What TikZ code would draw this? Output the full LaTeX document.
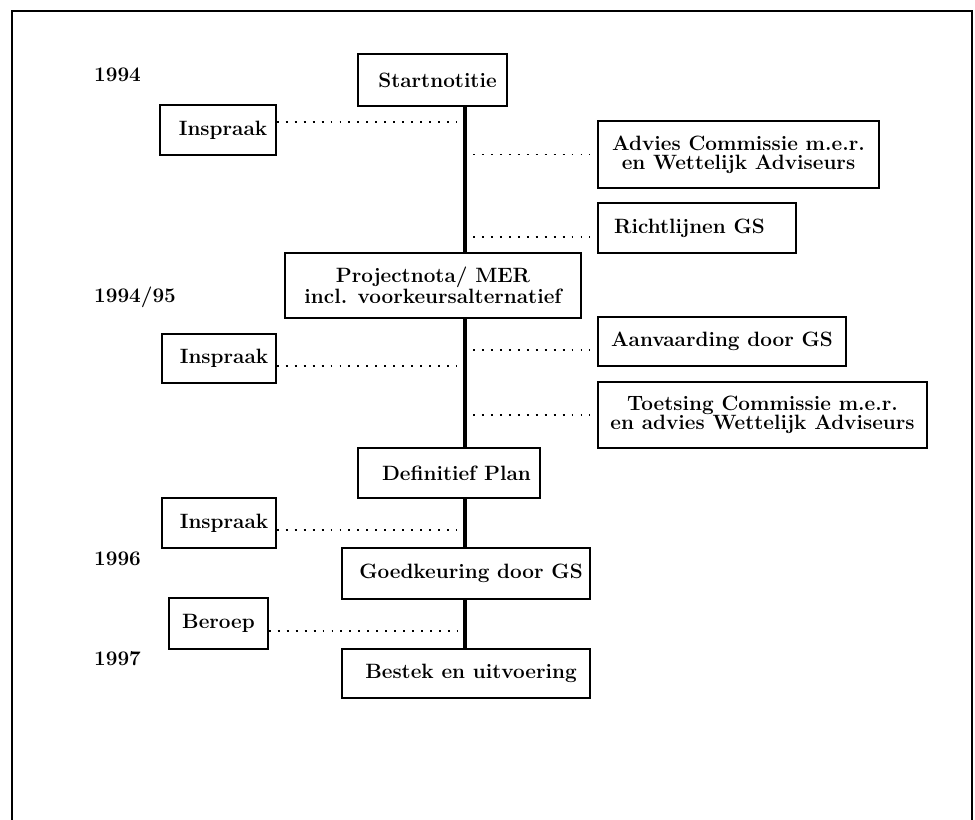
\documentclass[tikz,border=0pt]{standalone}
\usepackage{tikz}
\usetikzlibrary{positioning}

\begin{document}
\begin{tikzpicture}[x=0.02cm, y=-0.02cm, font=\fontsize{11.8}{10.8}\selectfont\bfseries,
        box/.style={draw, line width=0.9pt, align=center, inner sep=0pt},
        spine/.style={line width=2pt},
        dots/.style={line width=1.1pt, dash pattern=on 1.1pt off 4pt}]
        \useasboundingbox (0,0) rectangle (975,820);
        \draw[line width=1.3pt] (12,820) -- (12,11) -- (972,11) -- (972,820);
        \coordinate (sp) at (465,0);
        \foreach \yy/\yr in {75/{1994}, 297/{1994/95}, 559/{1996}, 659/{1997}}{
          \node[anchor=west] (yr\yy) at (88,\yy) {\yr};
        }
        \node[box, minimum width=2.98cm, minimum height=1.04cm] (start) at (432.5,80) {\hspace{0.2cm}Startnotitie};
        \node[box, minimum width=5.92cm, minimum height=1.30cm] (proj) at (433,285.5) {Projectnota/ MER\\incl. voorkeursalternatief};
        \node[box, minimum width=3.64cm, minimum height=1.00cm] (defp) at (449,473) {\hspace{0.3cm}Definitief Plan};
        \node[box, minimum width=4.96cm, minimum height=1.02cm] (goed) at (466,573.5) {\hspace{0.2cm}Goedkeuring door GS};
        \node[box, minimum width=4.96cm, minimum height=0.98cm] (best) at (466,673.5) {\hspace{0.2cm}Bestek en uitvoering};
        \node[box, minimum width=2.32cm, minimum height=1.00cm] (ins1) at (218,130) {\hspace{0.2cm}Inspraak};
        \node[box, minimum width=2.28cm, minimum height=0.98cm] (ins2) at (219,358.5) {\hspace{0.2cm}Inspraak};
        \node[box, minimum width=2.28cm, minimum height=1.00cm] (ins3) at (219,523) {\hspace{0.2cm}Inspraak};
        \node[box, minimum width=1.98cm, minimum height=1.02cm] (ber) at (218.5,623.5) {Beroep};
        \node[box, minimum width=5.62cm, minimum height=1.34cm] (adv) at (738.5,154.5) {Advies Commissie m.e.r.\\en Wettelijk Adviseurs};
        \node[box, minimum width=3.96cm, minimum height=1.00cm] (richt) at (697,228) {Richtlijnen GS\hspace{0.3cm}};
        \node[box, minimum width=4.96cm, minimum height=0.98cm] (aanv) at (722,341.5) {Aanvaarding door GS};
        \node[box, minimum width=6.58cm, minimum height=1.32cm] (toets) at (762.5,415) {Toetsing Commissie m.e.r.\\en advies Wettelijk Adviseurs};
        \foreach \a/\b in {start/proj, proj/defp, defp/goed, goed/best}{
          \draw[spine] (\a.south -| sp) -- (\b.north -| sp);
        }
        \foreach \n/\dy in {ins1/0.16, ins2/-0.15, ins3/-0.14, ber/-0.15}{
          \draw[dots] ([yshift=\dy cm]\n.east) -- ([xshift=-0.16cm,yshift=\dy cm]\n.east -| sp);
        }
        \foreach \n/\dy in {adv/0, richt/-0.18, aanv/-0.17, toets/0}{
          \draw[dots] ([xshift=0.16cm,yshift=\dy cm]\n.west -| sp) -- ([xshift=-0.14cm,yshift=\dy cm]\n.west);
        }
\end{tikzpicture}
\end{document}
